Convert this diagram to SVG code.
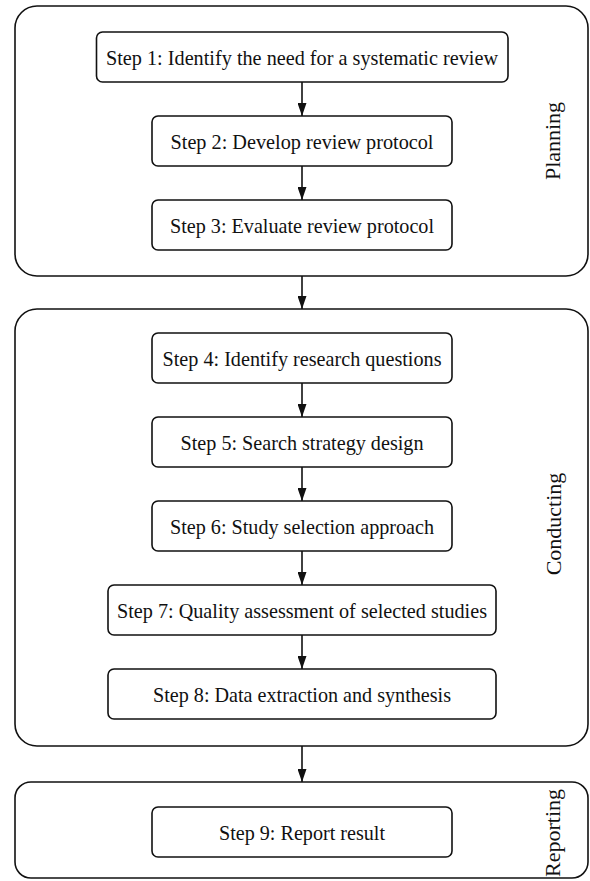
<svg xmlns="http://www.w3.org/2000/svg" width="590" height="881" viewBox="0 0 590 881">
<style>
.outer{fill:#fff;stroke:#111;stroke-width:1.6}
.box{fill:#fff;stroke:#111;stroke-width:1.6}
.t{font-family:"Liberation Serif","Times New Roman",serif;font-size:21px;fill:#111;text-anchor:middle}
.lbl{font-family:"Liberation Serif","Times New Roman",serif;font-size:22px;fill:#111;text-anchor:middle}
.c{stroke:#111;stroke-width:1.6;fill:none;marker-end:url(#ah)}
</style>
<defs>
<marker id="ah" viewBox="0 0 13 9" refX="13" refY="4.5" markerWidth="13" markerHeight="9" markerUnits="userSpaceOnUse" orient="auto">
<path d="M0,0 L13,4.5 L0,9 Z" fill="#111"/>
</marker>
</defs>
<rect width="590" height="881" fill="#fff"/>
<g id="planning">
<rect class="outer" x="15" y="6" width="573" height="270" rx="22" ry="22"/>
<text class="lbl" transform="translate(560,141) rotate(-90)">Planning</text>
</g>
<g id="conducting">
<rect class="outer" x="15" y="309" width="573" height="437" rx="22" ry="22"/>
<text class="lbl" transform="translate(561,524) rotate(-90)">Conducting</text>
</g>
<g id="reporting">
<rect class="outer" x="15" y="782" width="573" height="96" rx="16" ry="16"/>
<text class="lbl" transform="translate(560,833) rotate(-90)">Reporting</text>
</g>
<g id="step1"><rect class="box" x="96.5" y="32" width="411.5" height="50" rx="6"/><text class="t" x="302" y="65" textLength="392" lengthAdjust="spacingAndGlyphs">Step 1: Identify the need for a systematic review</text></g>
<g id="step2"><rect class="box" x="152" y="116" width="300" height="50" rx="6"/><text class="t" x="302" y="149" textLength="263" lengthAdjust="spacingAndGlyphs">Step 2: Develop review protocol</text></g>
<g id="step3"><rect class="box" x="152" y="200" width="300" height="50" rx="6"/><text class="t" x="302" y="233" textLength="264" lengthAdjust="spacingAndGlyphs">Step 3: Evaluate review protocol</text></g>
<g id="step4"><rect class="box" x="152" y="333" width="300" height="50" rx="6"/><text class="t" x="302" y="366" textLength="279" lengthAdjust="spacingAndGlyphs">Step 4: Identify research questions</text></g>
<g id="step5"><rect class="box" x="152" y="417" width="300" height="50" rx="6"/><text class="t" x="302" y="450" textLength="243" lengthAdjust="spacingAndGlyphs">Step 5: Search strategy design</text></g>
<g id="step6"><rect class="box" x="152" y="501" width="300" height="50" rx="6"/><text class="t" x="302" y="534" textLength="264" lengthAdjust="spacingAndGlyphs">Step 6: Study selection approach</text></g>
<g id="step7"><rect class="box" x="108" y="585" width="388" height="50" rx="6"/><text class="t" x="302" y="618" textLength="370" lengthAdjust="spacingAndGlyphs">Step 7: Quality assessment of selected studies</text></g>
<g id="step8"><rect class="box" x="108" y="669" width="388" height="50" rx="6"/><text class="t" x="302" y="702" textLength="298" lengthAdjust="spacingAndGlyphs">Step 8: Data extraction and synthesis</text></g>
<g id="step9"><rect class="box" x="152" y="807" width="300" height="50" rx="6"/><text class="t" x="302" y="840" textLength="166" lengthAdjust="spacingAndGlyphs">Step 9: Report result</text></g>
<g id="connectors">
<line class="c" x1="302" y1="82" x2="302" y2="116"/>
<line class="c" x1="302" y1="166" x2="302" y2="200"/>
<line class="c" x1="302" y1="276" x2="302" y2="309"/>
<line class="c" x1="302" y1="383" x2="302" y2="417"/>
<line class="c" x1="302" y1="467" x2="302" y2="501"/>
<line class="c" x1="302" y1="551" x2="302" y2="585"/>
<line class="c" x1="302" y1="635" x2="302" y2="669"/>
<line class="c" x1="302" y1="746" x2="302" y2="782"/>
</g>
</svg>
